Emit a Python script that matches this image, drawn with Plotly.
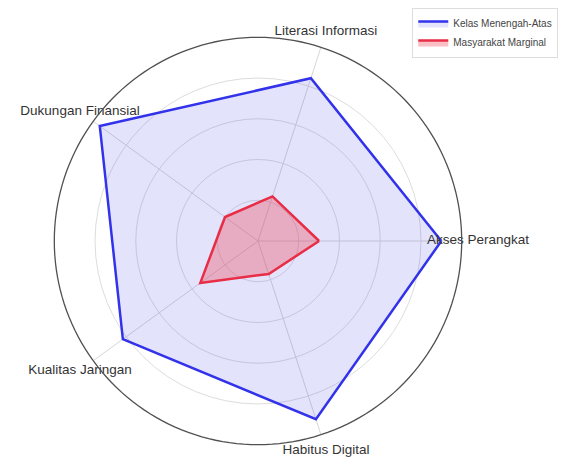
import plotly.graph_objects as go

categories = ["Akses Perangkat", "Literasi Informasi", "Dukungan Finansial", "Kualitas Jaringan", "Habitus Digital"]
kelas_menengah_atas = [90, 84, 96, 82, 92]
masyarakat_marginal = [30, 23, 20, 35, 17]
series_names = ["Kelas Menengah-Atas", "Masyarakat Marginal"]
axis_max = 100
label_r = 108

def closed(v):
    return list(v) + [v[0]]

FONT = "Liberation Sans, Arial, sans-serif"

fig = go.Figure()

# spokes (angular grid) ending at the outer circle
spoke_r, spoke_t = [], []
for c in categories:
    spoke_r += [0, axis_max, None]
    spoke_t += [c, c, None]
fig.add_trace(go.Scatterpolar(
    r=spoke_r, theta=spoke_t, mode="lines",
    line=dict(color="#d6d6d6", width=1), showlegend=False, hoverinfo="skip",
))

fig.add_trace(go.Scatterpolar(
    r=closed(kelas_menengah_atas), theta=closed(categories),
    mode="lines", fill="toself", name=series_names[0],
    line=dict(color="rgb(50,50,235)", width=2.5),
    fillcolor="rgba(70,70,230,0.15)",
))
fig.add_trace(go.Scatterpolar(
    r=closed(masyarakat_marginal), theta=closed(categories),
    mode="lines", fill="toself", name=series_names[1],
    line=dict(color="rgb(232,45,70)", width=2.5),
    fillcolor="rgba(240,70,90,0.35)",
))

# category labels
fig.add_trace(go.Scatterpolar(
    r=[label_r] * len(categories), theta=categories, mode="text", text=categories,
    textfont=dict(size=13.5, color="#333333", family=FONT),
    showlegend=False, cliponaxis=False, hoverinfo="skip",
))

# outer frame circle at the axis maximum (separate overlaid polar with linear angles)
frame_deg = list(range(0, 361, 2))
fig.add_trace(go.Scatterpolar(
    r=[axis_max] * len(frame_deg), theta=frame_deg, subplot="polar2",
    mode="lines", line=dict(color="#505050", width=1.3),
    showlegend=False, hoverinfo="skip",
))

hidden_angular = dict(showticklabels=False, ticks="", showline=False, showgrid=False,
                      rotation=0, direction="counterclockwise")

fig.update_layout(
    width=567, height=463,
    margin=dict(l=30, r=97, t=13, b=10, autoexpand=False),
    paper_bgcolor="white", plot_bgcolor="white",
    font=dict(family=FONT, color="#333333"),
    polar=dict(
        domain=dict(x=[0, 1], y=[0, 1]),
        bgcolor="white",
        angularaxis=dict(type="category", categoryarray=categories, **hidden_angular),
        radialaxis=dict(
            range=[0, label_r], tickvals=[20, 40, 60, 80],
            showticklabels=False, ticks="", showline=False,
            gridcolor="#dddddd", gridwidth=1,
        ),
    ),
    polar2=dict(
        domain=dict(x=[0, 1], y=[0, 1]),
        bgcolor="rgba(0,0,0,0)",
        angularaxis=dict(type="linear", **hidden_angular),
        radialaxis=dict(range=[0, label_r], showticklabels=False, ticks="",
                        showline=False, showgrid=False),
    ),
    legend=dict(
        xref="container", yref="container",
        x=0.713, y=1.03, xanchor="left", yanchor="top",
        font=dict(size=10, color="#444444", family=FONT),
        bordercolor="#dddddd", borderwidth=1,
        bgcolor="rgba(255,255,255,0.9)",
        tracegroupgap=0, itemwidth=30,
    ),
)

fig.write_html("out.html")
